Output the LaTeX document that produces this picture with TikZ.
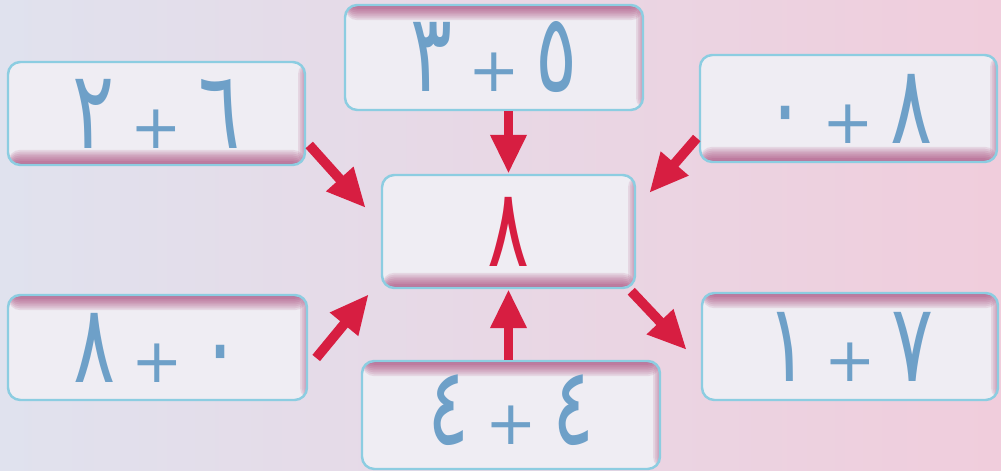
\documentclass[tikz,border=0pt]{standalone}
\usepackage{fontspec}
\newfontfamily\arabicfont[Script=Arabic, FakeStretch=0.72]{DejaVu Sans}
\newfontfamily\plusfont{DejaVu Sans}
\usetikzlibrary{arrows.meta}

\definecolor{bgleft}{RGB}{224,226,238}
\definecolor{bgright}{RGB}{240,205,220}
\definecolor{boxline}{RGB}{140,205,225}
\definecolor{boxfill}{RGB}{239,237,243}
\definecolor{boxshade}{RGB}{160,50,105}
\definecolor{digit}{RGB}{110,160,200}
\definecolor{arrred}{RGB}{215,30,65}

\newcommand{\pl}{\hspace{0.32cm}{\plusfont\fontsize{35}{35}\selectfont+}\hspace{0.32cm}}

\begin{document}
\begin{tikzpicture}[
    sumbox/.style={draw=boxline, line width=1.4pt, fill=boxfill, rounded corners=7pt,
      minimum width=5.94cm, minimum height=2.1cm, inner sep=0pt,
      font=\arabicfont\fontsize{62}{66}\selectfont, text=digit},
    shade bottom/.style={path picture={
      \foreach \k in {1,...,8}{
        \fill[boxshade, opacity=0.12] (path picture bounding box.south west) rectangle ([yshift=\k*0.038cm]path picture bounding box.south east);}
      \foreach \k in {1,...,4}{
        \fill[boxshade, opacity=0.12] ([xshift=-\k*0.035cm]path picture bounding box.north east) rectangle (path picture bounding box.south east);}}},
    shade top/.style={path picture={
      \foreach \k in {1,...,8}{
        \fill[boxshade, opacity=0.12] ([yshift=-\k*0.038cm]path picture bounding box.north west) rectangle (path picture bounding box.north east);}
      \foreach \k in {1,...,4}{
        \fill[boxshade, opacity=0.12] ([xshift=-\k*0.035cm]path picture bounding box.north east) rectangle (path picture bounding box.south east);}}},
    arr/.style={draw=arrred, line width=5.6pt, -{Triangle[length=0.78cm,width=0.68cm]}}
  ]

% Background
\shade[left color=bgleft, right color=bgright] (0,0) rectangle (20.02,9.42);
\useasboundingbox (0,0) rectangle (20.02,9.42);

% Centre box
\node[sumbox, shade bottom, minimum width=5.06cm, minimum height=2.26cm, text=arrred] (sum) at (10.17,4.79) {٨};

% Top row
\node[sumbox, shade bottom, minimum height=2.06cm] (q1) at (3.13,7.15) {٢\pl٦};
\node[sumbox, shade top, minimum width=5.96cm] (q2) at (9.88,8.27) {٣\pl٥};
\node[sumbox, shade bottom, minimum height=2.14cm] (q3) at (16.97,7.25) {٠\pl٨};

% Bottom row
\node[sumbox, shade top, minimum width=5.98cm] (q4) at (3.15,2.47) {٨\pl٠};
\node[sumbox, shade top, minimum width=5.96cm, minimum height=2.16cm] (q5) at (10.22,1.12) {\raisebox{0.2cm}{٤\pl٤}};
\node[sumbox, shade top, minimum width=5.92cm, minimum height=2.14cm] (q6) at (17.0,2.49) {١\pl٧};

% Arrows
\draw[arr] ([xshift=0.06cm,yshift=-0.63cm]q1.east) -- ([xshift=-0.3cm,yshift=0.47cm]sum.west);
\draw[arr] (q2.south -| sum.north) -- (sum.north);
\draw[arr] ([xshift=-0.04cm,yshift=-0.59cm]q3.west) -- ([xshift=0.26cm,yshift=0.77cm]sum.east);
\draw[arr] ([xshift=0.16cm,yshift=-0.21cm]q4.east) -- ([xshift=-0.24cm,yshift=-0.1cm]sum.south west);
\draw[arr] (q5.north -| sum.south) -- (sum.south);
\draw[arr] ([xshift=-0.1cm,yshift=-0.04cm]sum.south east) -- ([xshift=-0.28cm,yshift=-0.07cm]q6.west);

\end{tikzpicture}
\end{document}
